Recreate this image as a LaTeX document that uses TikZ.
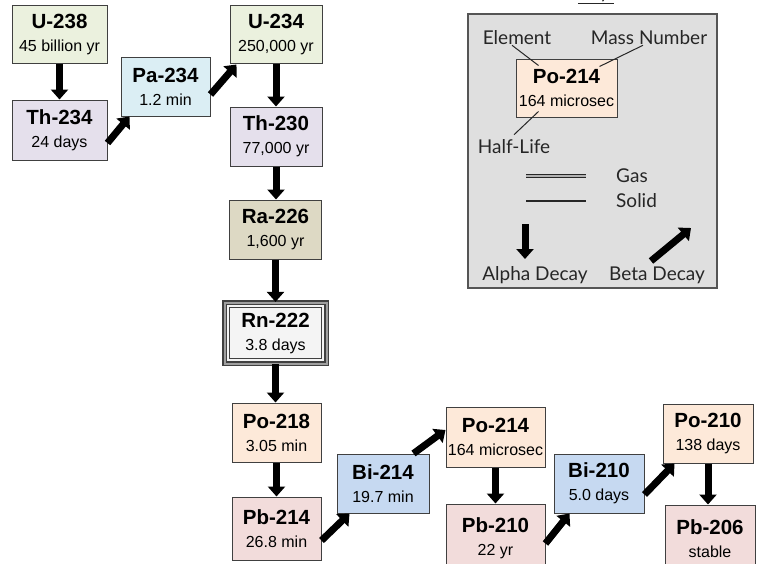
\documentclass[tikz,border=0pt]{standalone}
\usepackage{fontspec}
\setmainfont{Liberation Sans}
\newfontfamily\keyfont{Lato}
\usetikzlibrary{arrows.meta,calc}
\definecolor{cU}{HTML}{EBF1DE}
\definecolor{cTh}{HTML}{E5E0EC}
\definecolor{cPa}{HTML}{DBEEF4}
\definecolor{cRa}{HTML}{DDD9C4}
\definecolor{cRn}{HTML}{F4F4F4}
\definecolor{cPo}{HTML}{FDE9D9}
\definecolor{cPb}{HTML}{F2DCDB}
\definecolor{cBi}{HTML}{C6D9F1}
\definecolor{keybg}{HTML}{DFDFDF}
\definecolor{boxline}{HTML}{404040}
\definecolor{keyline}{HTML}{555555}
\newcommand{\nm}[1]{{\fontsize{20.5}{23}\selectfont\bfseries #1}}
\tikzset{
  nuc/.style={draw=boxline, line width=1pt, minimum width=92pt, minimum height=59pt,
    align=center, inner sep=0pt, font=\fontsize{16}{23}\selectfont},
  decayarrow/.style={line width=7pt, black, -{Triangle[width=17pt,length=10pt]}},
  keytxt/.style={font=\keyfont\fontsize{19}{22}\selectfont, text=black!85, inner sep=0pt},
  keylink/.style={line width=1pt, black!85},
}
\begin{document}
\begin{tikzpicture}[x=1pt,y=-1pt]
\useasboundingbox (0,0) rectangle (760,563);
% chain nodes
\node[nuc, fill=cU, minimum width=95pt, minimum height=58pt] (u238) at (59.5,34) {\nm{U-238}\\45 billion yr};
\node[nuc, fill=cTh, minimum width=95pt, minimum height=60pt] (th234) at (59.5,130) {\nm{Th-234}\\24 days};
\node[nuc, fill=cPa, minimum width=89pt] (pa234) at (165.5,86.5) {\nm{Pa-234}\\1.2 min};
\node[nuc, fill=cU, minimum height=58pt] (u234) at (276,34) {\nm{U-234}\\250,000 yr};
\node[nuc, fill=cTh] (th230) at (276,136.5) {\nm{Th-230}\\77,000 yr};
\node[nuc, fill=cRa] (ra226) at (275.5,229.5) {\nm{Ra-226}\\1,600 yr};
\node[nuc, fill=cRn, minimum width=102pt, minimum height=61pt, draw=boxline, line width=1.3pt,
      double=gray!75, double distance=2pt] (rn222) at (275.5,333) {\nm{Rn-222}\\3.8 days};
\draw[boxline, line width=1.2pt] ([shift={(5.5pt,-5.5pt)}]rn222.north west) rectangle ([shift={(-5.5pt,5.5pt)}]rn222.south east);
\node[nuc, fill=cPo, minimum width=89pt] (po218) at (276.5,432.5) {\nm{Po-218}\\3.05 min};
\node[nuc, fill=cPb, minimum width=89pt, minimum height=63pt] (pb214) at (276.5,528.5) {\nm{Pb-214}\\26.8 min};
\node[nuc, fill=cBi] (bi214) at (383,483.5) {\nm{Bi-214}\\19.7 min};
\node[nuc, fill=cPo, minimum width=99pt, minimum height=60pt] (po214) at (495.5,437) {\nm{Po-214}\\164 microsec};
\node[nuc, fill=cPb, minimum width=99pt, minimum height=68pt] (pb210) at (495.5,538) {\nm{Pb-210}\\22 yr};
\node[nuc, fill=cBi, minimum width=90pt] (bi210) at (599,483.5) {\nm{Bi-210}\\5.0 days};
\node[nuc, fill=cPo, minimum width=90pt] (po210) at (708,433.5) {\nm{Po-210}\\138 days};
\node[nuc, fill=cPb, minimum width=90pt, minimum height=68pt] (pb206) at (710,539) {\nm{Pb-206}\\stable};
% alpha decays
\draw[decayarrow] (u238.south) -- (u238.south |- th234.north);
\draw[decayarrow] (u234.south) -- (u234.south |- th230.north);
\draw[decayarrow] (th230.south) -- (th230.south |- ra226.north);
\draw[decayarrow] (ra226.south) -- (ra226.south |- rn222.north);
\draw[decayarrow] (rn222.south) -- (rn222.south |- po218.north);
\draw[decayarrow] (po218.south) -- (po218.south |- pb214.north);
\draw[decayarrow] (po214.south) -- (po214.south |- pb210.north);
\draw[decayarrow] (po210.south) -- (po210.south |- pb206.north);
% beta decays
\draw[decayarrow] ([yshift=-13pt]th234.east) -- ([xshift=9pt]pa234.south west);
\draw[decayarrow] ([yshift=-8pt]pa234.east) -- ([xshift=7pt,yshift=-1pt]u234.south west);
\draw[decayarrow] ([yshift=-12pt]pb214.east) -- ([xshift=13pt]bi214.south west);
\draw[decayarrow] ([xshift=-16pt]bi214.north east) -- ([yshift=7pt]po214.west);
\draw[decayarrow] ([yshift=-40pt]pb210.north east) -- ([xshift=16pt]bi210.south west);
\draw[decayarrow] ([yshift=-11pt]bi210.east) -- ([xshift=12pt]po210.south west);
% key
\node[keytxt, anchor=base] (keytitle) at (596,-1.5) {\underline{Key:}};
\node[draw=keyline, fill=keybg, line width=1.2pt, minimum width=249pt, minimum height=274pt, inner sep=0pt] (keybox) at (592.5,151) {};
\node[nuc, fill=cPo, minimum width=101pt, minimum height=58pt] (keypo) at (566.5,88) {\nm{Po-214}\\164 microsec};
\node[keytxt] (kel) at (517,38) {Element};
\node[keytxt] (kmass) at (649,38) {Mass Number};
\node[keytxt] (khalf) at (514,147) {Half-Life};
\draw[keylink] ([xshift=-5pt]kel.south) -- ([xshift=23pt,yshift=-7pt]keypo.north west);
\draw[keylink] ([xshift=-6pt]kmass.south) -- ([xshift=-18pt,yshift=-8pt]keypo.north east);
\draw[keylink] ([xshift=23pt,yshift=6pt]keypo.south west) -- ([yshift=5pt]khalf.north);
\coordinate (g1) at (526,176);
\coordinate (g2) at (586,176);
\draw[black!85, line width=1.8pt, double=gray!60, double distance=1.2pt] (g1) -- (g2);
\node[keytxt, anchor=west] (kgas) at (616,176) {Gas};
\coordinate (s1) at (526,201);
\coordinate (s2) at (586,201);
\draw[black!85, line width=1.4pt] (s1) -- (s2);
\node[keytxt, anchor=west] (ksolid) at (616,201) {Solid};
\coordinate (ka1) at (525,224);
\coordinate (ka2) at (525,259);
\draw[decayarrow] (ka1) -- (ka2);
\coordinate (kb1) at (651,261);
\coordinate (kb2) at (691,228);
\draw[decayarrow] (kb1) -- (kb2);
\node[keytxt] (kalpha) at (535,275) {Alpha Decay};
\node[keytxt] (kbeta) at (657,275) {Beta Decay};
\end{tikzpicture}
\end{document}
